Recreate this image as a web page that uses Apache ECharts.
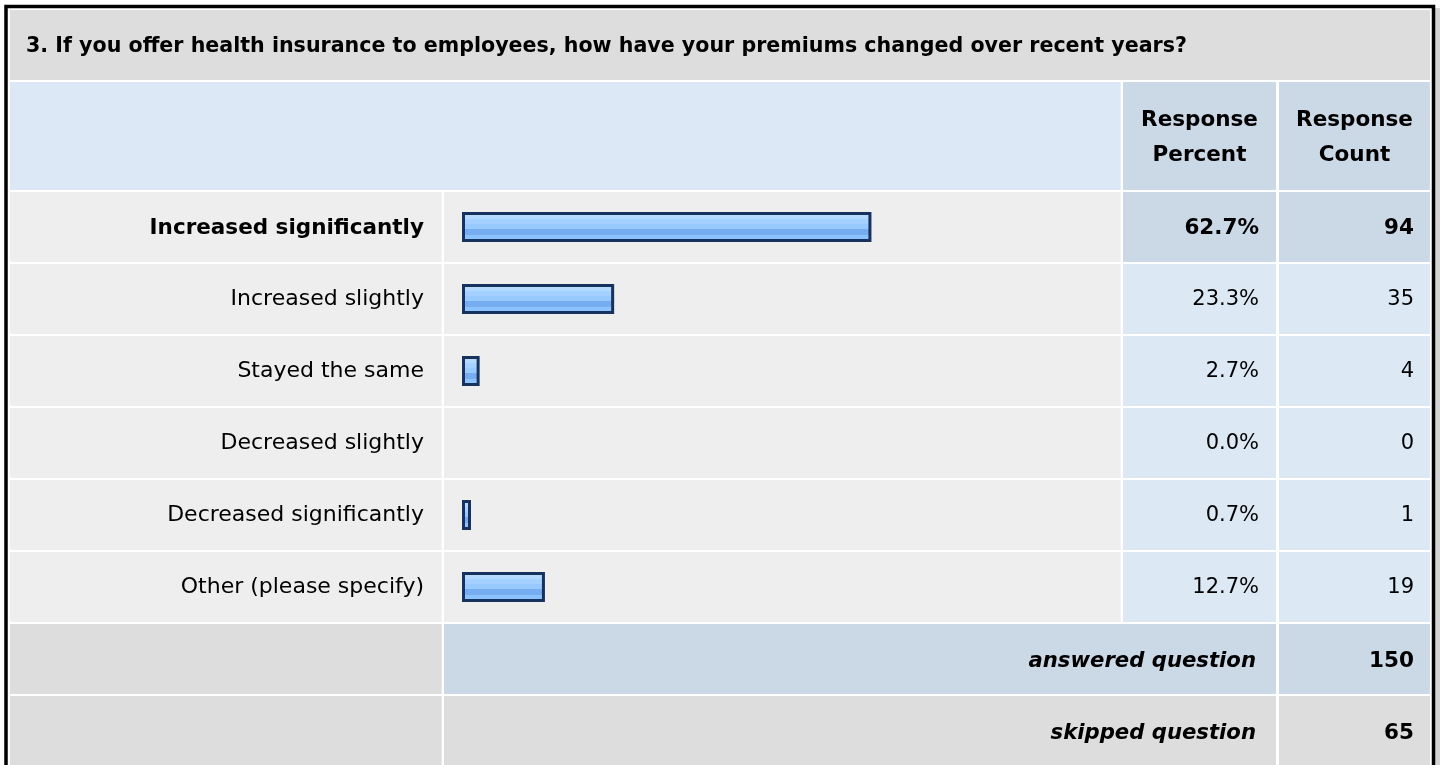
<!DOCTYPE html>
<html>
<head>
<meta charset="utf-8">
<script src="https://cdn.jsdelivr.net/npm/echarts@6/dist/echarts.min.js"></script>
<style>
html,body{margin:0;padding:0;background:#ffffff;}
#chart{width:1440px;height:765px;}
</style>
</head>
<body>
<div id="chart"></div>
<script>
// ---- data ----
const questionTitle = '3. If you offer health insurance to employees, how have your premiums changed over recent years?';
const columnHeaders = ['Response\nPercent', 'Response\nCount'];
const categories = ['Increased significantly', 'Increased slightly', 'Stayed the same', 'Decreased slightly', 'Decreased significantly', 'Other (please specify)'];
const responsePercent = [62.7, 23.3, 2.7, 0.0, 0.7, 12.7];
const responseCount = [94, 35, 4, 0, 1, 19];
const summaryLabels = ['answered question', 'skipped question'];
const summaryValues = [150, 65];

// ---- layout ----
const FONT = 'DejaVu Sans';
const TXT = '#000000';
const BOLD = 'bold 21.5px "' + FONT + '"';
const BOLDI = 'italic bold 21.2px "' + FONT + '"';
const COL = { l0: 10, l1: 441.7, b0: 444, b1: 1120.7, p0: 1123, p1: 1276, c0: 1279, c1: 1430 };
const GRID = { left: 462, top: 191, width: 653, height: 432 };
const maxIdx = responsePercent.indexOf(Math.max.apply(null, responsePercent));

const barFill = new echarts.graphic.LinearGradient(0, 0, 0, 1, [
  { offset: 0, color: '#d2eaff' }, { offset: 0.08, color: '#d2eaff' },
  { offset: 0.08, color: '#b6daff' }, { offset: 0.24, color: '#b6daff' },
  { offset: 0.24, color: '#a4d1ff' }, { offset: 0.40, color: '#a4d1ff' },
  { offset: 0.40, color: '#98c9ff' }, { offset: 0.58, color: '#98c9ff' },
  { offset: 0.58, color: '#76acf0' }, { offset: 0.76, color: '#76acf0' },
  { offset: 0.76, color: '#8cc2ff' }, { offset: 0.89, color: '#8cc2ff' },
  { offset: 0.89, color: '#9ecfff' }, { offset: 1, color: '#9ecfff' }
]);

const chart = echarts.init(document.getElementById('chart'), null, { renderer: 'canvas' });

function rect(x0, x1, y0, y1, fill, z) {
  return { type: 'rect', z: z || 0, silent: true, shape: { x: x0, y: y0, width: x1 - x0, height: y1 - y0 }, style: { fill: fill } };
}
function txt(x, y, text, align, font, z) {
  return { type: 'text', z: z || 2, silent: true, x: x, y: y,
    style: { text: text, fill: TXT, font: font, textAlign: align, textVerticalAlign: 'middle', align: align, verticalAlign: 'middle', lineHeight: 35 } };
}

const graphics = [
  rect(1435, 1440, 8, 765, '#d4d4d4', 0),
  // title row
  rect(COL.l0, COL.c1, 10, 80, '#dddddd', 0),
  txt(26, 47, questionTitle, 'left', 'bold 20.6px "' + FONT + '"', 2),
  // header row
  rect(COL.l0, COL.b1, 82, 190, '#dce8f5', 0),
  rect(COL.p0, COL.p1, 82, 190, '#cbd8e6', 0),
  rect(COL.c0, COL.c1, 82, 190, '#cbd8e6', 0),
  txt((COL.p0 + COL.p1) / 2, 138, columnHeaders[0], 'center', BOLD, 2),
  txt((COL.c0 + COL.c1) / 2, 138, columnHeaders[1], 'center', BOLD, 2),
  // answered row
  rect(COL.l0, COL.l1, 624, 694, '#dddddd', 0),
  rect(COL.b0, COL.p1, 624, 694, '#cbd8e6', 0),
  rect(COL.c0, COL.c1, 624, 694, '#cbd8e6', 0),
  txt(1256, 661, summaryLabels[0], 'right', BOLDI, 2),
  txt(1414, 661, String(summaryValues[0]), 'right', BOLD, 2),
  // skipped row
  rect(COL.l0, COL.l1, 696, 766, '#dddddd', 0),
  rect(COL.b0, COL.p1, 696, 766, '#dddddd', 0),
  rect(COL.c0, COL.c1, 696, 766, '#dddddd', 0),
  txt(1256, 733, summaryLabels[1], 'right', BOLDI, 2),
  txt(1414, 733, String(summaryValues[1]), 'right', BOLD, 2),
  // outer border
  { type: 'rect', z: 10, silent: true, shape: { x: 6, y: 6.5, width: 1427.5, height: 820 }, style: { fill: null, stroke: '#000000', lineWidth: 3.5 } }
];

const option = {
  animation: false,
  backgroundColor: '#ffffff',
  grid: { left: GRID.left, top: GRID.top, width: GRID.width, height: GRID.height, containLabel: false },
  xAxis: { type: 'value', min: 0, max: 100, show: false },
  yAxis: [{
    type: 'category', inverse: true, data: categories,
    axisLine: { show: false }, axisTick: { show: false }, splitLine: { show: false },
    axisLabel: {
      margin: GRID.left - 424, align: 'right',
      formatter: function (v, i) { return (i === maxIdx ? '{b|' : '{n|') + v + '}'; },
      rich: {
        b: { fontFamily: FONT, fontWeight: 'bold', fontSize: 21.5, color: TXT, padding: [2, 0, 0, 0] },
        n: { fontFamily: FONT, fontSize: 22, color: TXT }
      }
    }
  }],
  graphic: graphics,
  series: [
    {
      type: 'custom', z: -1, clip: false, silent: true,
      data: categories.map(function (c, i) { return [0, i]; }),
      encode: { x: 0, y: 1 },
      renderItem: function (params, api) {
        const idx = api.value(1);
        const yc = api.coord([0, idx])[1];
        const bh = api.size([0, 1])[1];
        const y0 = yc - bh / 2 + 1, y1 = yc + bh / 2 - 1;
        const isMax = idx === maxIdx;
        const blue = isMax ? '#cbd8e6' : '#dde8f5';
        const font = isMax ? BOLD : '21px "' + FONT + '"';
        return {
          type: 'group',
          children: [
            rect(COL.l0, COL.l1, y0, y1, '#eeeeee', 0),
            rect(COL.b0, COL.b1, y0, y1, '#eeeeee', 0),
            rect(COL.p0, COL.p1, y0, y1, blue, 0),
            rect(COL.c0, COL.c1, y0, y1, blue, 0),
            txt(1259, yc + 1, responsePercent[idx].toFixed(1) + '%', 'right', font, 1),
            txt(1414, yc + 1, String(responseCount[idx]), 'right', font, 1)
          ]
        };
      }
    },
    {
      type: 'bar', z: 3,
      data: responsePercent.map(function (v) { return v === 0 ? null : v; }),
      barWidth: 30, barMinHeight: 9,
      itemStyle: { color: barFill, borderColor: '#17325c', borderWidth: 3 }
    }
  ]
};
chart.setOption(option);
</script>
</body>
</html>
